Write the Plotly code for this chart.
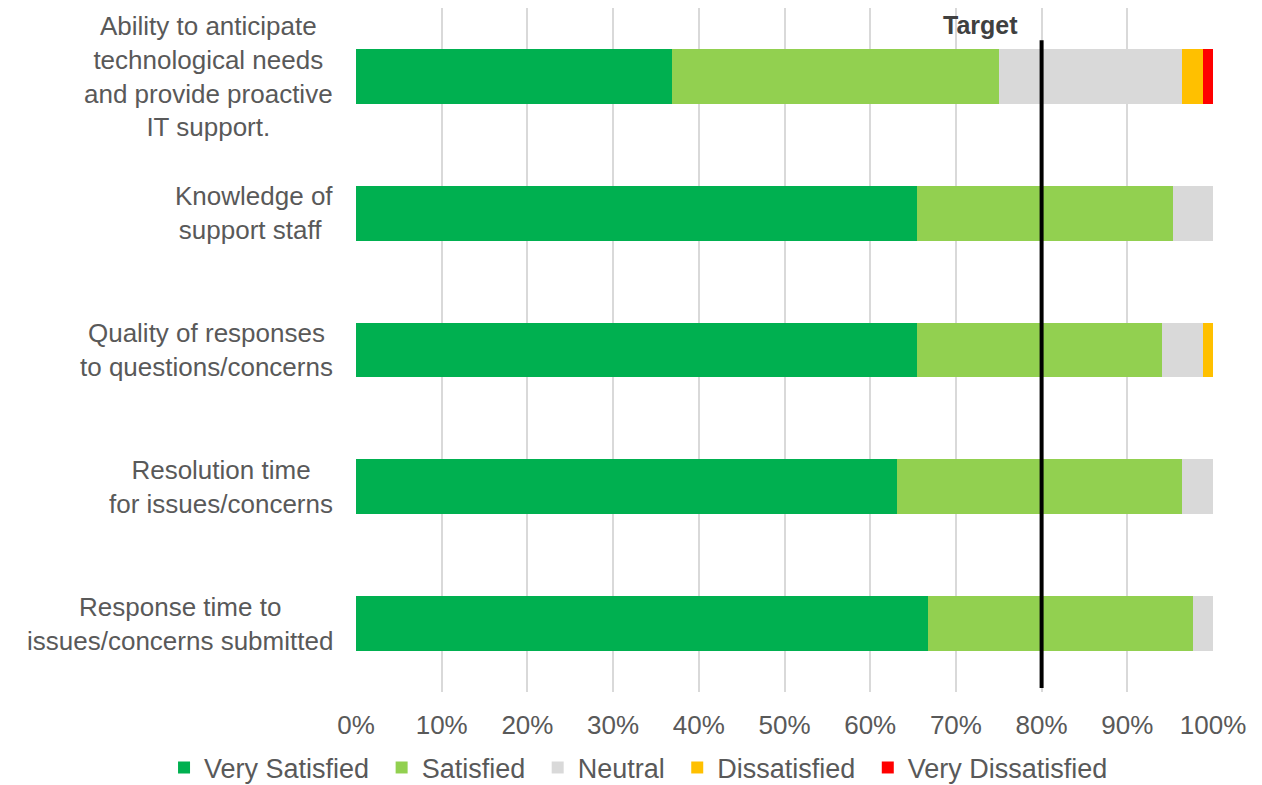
import plotly.graph_objects as go

# Survey items, top to bottom
categories = [
    "Ability to anticipate<br>technological needs<br>and provide proactive<br>IT support.",
    "Knowledge of<br>support staff ",
    "Quality of responses<br>to questions/concerns",
    "Resolution time<br>for issues/concerns",
    "Response time to<br>issues/concerns submitted",
]

# Share of responses (%) per rating level
very_satisfied = [36.9, 65.5, 65.5, 63.1, 66.7]
satisfied = [38.1, 29.8, 28.6, 33.3, 31.0]
neutral = [21.4, 4.7, 4.7, 3.6, 2.3]
dissatisfied = [2.4, 0.0, 1.2, 0.0, 0.0]
very_dissatisfied = [1.2, 0.0, 0.0, 0.0, 0.0]

series_names = ["Very Satisfied", "Satisfied", "Neutral", "Dissatisfied", "Very Dissatisfied"]
series_values = [very_satisfied, satisfied, neutral, dissatisfied, very_dissatisfied]
series_colors = ["#00B050", "#92D050", "#D9D9D9", "#FFC000", "#FF0000"]

target = 80
tick_values = [0, 10, 20, 30, 40, 50, 60, 70, 80, 90, 100]
tick_labels = [f"{v}%" for v in tick_values]

FONT = "Liberation Sans, Arial, sans-serif"
TEXT = "#595959"

fig = go.Figure()
for name, vals, color in zip(series_names, series_values, series_colors):
    fig.add_trace(go.Bar(
        y=categories, x=vals,
        name=name + "\u00a0",  # a little extra room between legend entries
        orientation="h",
        marker=dict(color=color, line=dict(width=0)),
    ))

# Category labels, centred multi-line text to the left of the bars
for cat in categories:
    fig.add_annotation(
        x=0, xref="paper", y=cat, yref="y",
        text=cat, showarrow=False, align="center",
        xanchor="right", yanchor="middle", xshift=-21,
        font=dict(family=FONT, size=26, color=TEXT),
    )

# Target marker
fig.add_shape(
    type="line", x0=target, x1=target, xref="x",
    y0=0.006, y1=0.953, yref="paper",
    line=dict(color="black", width=4),
)
fig.add_annotation(
    x=target, xref="x", y=0.975, yref="paper",
    text="<b>Target</b>", showarrow=False,
    xanchor="right", yanchor="middle", xshift=-22,
    font=dict(family=FONT, size=25, color="#404040"),
)

fig.update_layout(
    barmode="stack",
    bargap=0.6,
    width=1262, height=785,
    margin=dict(l=356, r=49, t=8, b=93, autoexpand=False),
    plot_bgcolor="white", paper_bgcolor="white",
    font=dict(family=FONT, size=26, color=TEXT),
    xaxis=dict(
        range=[0, 100], tickvals=tick_values, ticktext=tick_labels,
        showgrid=True, gridcolor="#D9D9D9", gridwidth=1.5,
        ticks="", ticklabelstandoff=15,
        zeroline=False, showline=False,
        tickfont=dict(family=FONT, size=26, color=TEXT),
    ),
    yaxis=dict(
        autorange="reversed", showticklabels=False, showgrid=False,
        zeroline=False, showline=False,
    ),
    legend=dict(
        orientation="h", xref="paper", yref="paper",
        x=-0.224, xanchor="left", y=-0.111, yanchor="middle",
        font=dict(family=FONT, size=27, color=TEXT),
        traceorder="normal", itemclick=False,
    ),
    showlegend=True,
)

fig.write_html("out.html")
